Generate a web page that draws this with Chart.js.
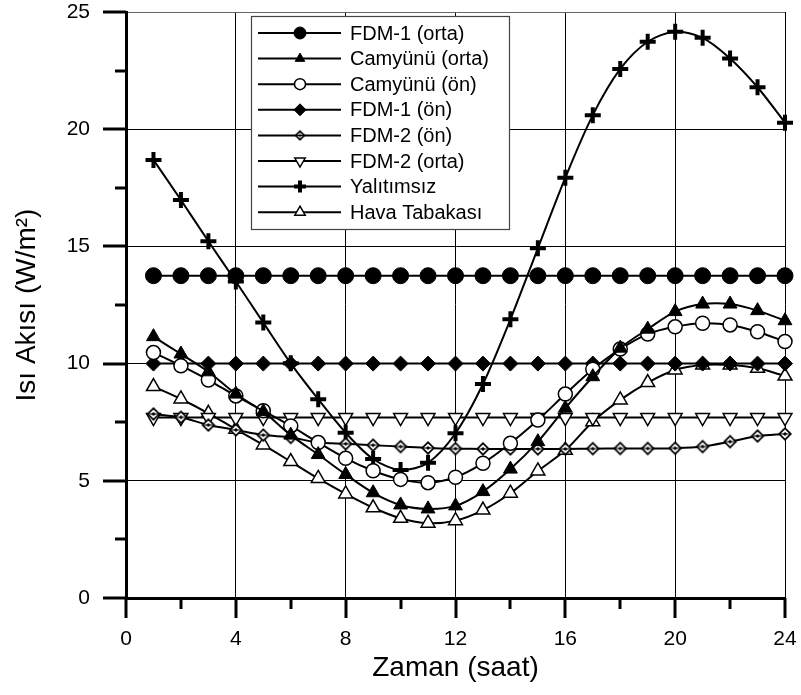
<!DOCTYPE html>
<html>
<head>
<meta charset="utf-8">
<script src="https://cdn.jsdelivr.net/npm/chart.js@4/dist/chart.umd.min.js"></script>
<style>
  html, body { margin : 0; padding : 0; background : #fff; }
  #wrap { width : 801px; height : 695px; }
</style>
</head>
<body>
<div id="wrap"><canvas id="fluxChart" width="801" height="695"></canvas></div>
<script>
// hours of the day
var hours = [1, 2, 3, 4, 5, 6, 7, 8, 9, 10, 11, 12, 13, 14, 15, 16, 17, 18, 19, 20, 21, 22, 23, 24];

// heat flux series (W/m2)
var fdm1Orta = [13.75, 13.75, 13.75, 13.75, 13.75, 13.75, 13.75, 13.75, 13.75, 13.75, 13.75, 13.75,
  13.75, 13.75, 13.75, 13.75, 13.75, 13.75, 13.75, 13.75, 13.75, 13.75, 13.75, 13.75];
var camyunuOrta = [11.15, 10.41, 9.65, 8.7, 7.95, 6.95, 6.12, 5.27, 4.49, 3.97, 3.8, 3.93,
  4.54, 5.5, 6.67, 8.1, 9.44, 10.66, 11.47, 12.22, 12.54, 12.54, 12.26, 11.83];
var camyunuOn = [10.47, 9.91, 9.3, 8.62, 7.99, 7.34, 6.63, 5.96, 5.43, 5.06, 4.92, 5.15,
  5.75, 6.6, 7.59, 8.7, 9.76, 10.62, 11.26, 11.57, 11.72, 11.65, 11.36, 10.94];
var fdm1On = [10, 10, 10, 10, 10, 10, 10, 10, 10, 10, 10, 10,
  10, 10, 10, 10, 10, 10, 10, 10, 10, 10, 10, 10];
var fdm2On = [7.85, 7.71, 7.38, 7.17, 6.95, 6.85, 6.63, 6.58, 6.52, 6.46, 6.4, 6.37,
  6.36, 6.36, 6.36, 6.36, 6.37, 6.38, 6.38, 6.39, 6.46, 6.67, 6.91, 7.0];
var fdm2Orta = [7.7, 7.7, 7.7, 7.7, 7.7, 7.7, 7.7, 7.7, 7.7, 7.7, 7.7, 7.7,
  7.7, 7.7, 7.7, 7.7, 7.7, 7.7, 7.7, 7.7, 7.7, 7.7, 7.7, 7.7];
var yalitimsiz = [18.69, 16.98, 15.22, 13.5, 11.75, 10.01, 8.48, 7.05, 5.93, 5.46, 5.77, 7.03,
  9.13, 11.89, 14.92, 17.93, 20.6, 22.57, 23.73, 24.16, 23.9, 23.02, 21.79, 20.28];
var havaTabakasi = [9.02, 8.49, 7.88, 7.2, 6.53, 5.82, 5.1, 4.44, 3.85, 3.4, 3.19, 3.3,
  3.75, 4.47, 5.42, 6.3, 7.52, 8.45, 9.19, 9.73, 9.94, 9.94, 9.8, 9.47];

var seriesLabels = ['FDM-1 (orta)', 'Camyünü (orta)', 'Camyünü (ön)', 'FDM-1 (ön)',
  'FDM-2 (ön)', 'FDM-2 (orta)', 'Yalıtımsız', 'Hava Tabakası'];

// axis ticks
var xTicks = [0, 4, 8, 12, 16, 20, 24];
var yTicks = [0, 5, 10, 15, 20, 25];

var FONT = '"Liberation Sans", Arial, sans-serif';

/**
 * diamond with a small dot inside, used for FDM-2 (ön)
 */
function makeDotDiamond(r) {
  var c = document.createElement('canvas');
  var s = Math.ceil(r * 2 + 2);
  c.width = s;
  c.height = s;
  var g = c.getContext('2d');
  var m = s / 2;
  function diamond(rr) {
    g.beginPath();
    g.moveTo(m, m - rr);
    g.lineTo(m + rr, m);
    g.lineTo(m, m + rr);
    g.lineTo(m - rr, m);
    g.closePath();
  }
  diamond(r);
  g.fillStyle = '#000';
  g.fill();
  diamond(r - 2.4);
  g.fillStyle = '#fff';
  g.fill();
  diamond(Math.max(1.2, r * 0.3));
  g.fillStyle = '#000';
  g.fill();
  g.fillRect(m - r + 2, m - 0.5, 2 * r - 4, 1);
  return c;
}

var dotDiamond = makeDotDiamond(7);
var dotDiamondSmall = makeDotDiamond(5.5);

function series(values) {
  return hours.map(function (h, i) { return { x : h, y : values[i] }; });
}

function makeDataset(label, values, style) {
  return {
    label : label,
    data : series(values),
    borderColor : '#000',
    borderWidth : 2,
    tension : 0.3,
    clip : false,
    pointStyle : style.pointStyle,
    pointRotation : style.rotation || 0,
    pointRadius : style.radius,
    pointBorderWidth : style.borderWidth,
    pointBackgroundColor : style.fill,
    pointBorderColor : '#000',
    legendRadius : style.legendRadius,
    legendStyle : style.legendStyle || style.pointStyle,
  };
}

var datasets = [
  makeDataset(seriesLabels[0], fdm1Orta, { pointStyle : 'circle', radius : 8, borderWidth : 1, fill : '#000', legendRadius : 6 }),
  makeDataset(seriesLabels[1], camyunuOrta, { pointStyle : 'triangle', radius : 8, borderWidth : 1, fill : '#000', legendRadius : 5.5 }),
  makeDataset(seriesLabels[2], camyunuOn, { pointStyle : 'circle', radius : 7, borderWidth : 1.5, fill : '#fff', legendRadius : 5.5 }),
  makeDataset(seriesLabels[3], fdm1On, { pointStyle : 'rectRot', radius : 7.5, borderWidth : 1, fill : '#000', legendRadius : 6 }),
  makeDataset(seriesLabels[4], fdm2On, { pointStyle : dotDiamond, radius : 7, borderWidth : 1, fill : '#fff', legendRadius : 5.5, legendStyle : dotDiamondSmall }),
  makeDataset(seriesLabels[5], fdm2Orta, { pointStyle : 'triangle', rotation : 180, radius : 8, borderWidth : 1.5, fill : '#fff', legendRadius : 6 }),
  makeDataset(seriesLabels[6], yalitimsiz, { pointStyle : 'cross', radius : 8, borderWidth : 4, fill : '#000', legendRadius : 6 }),
  makeDataset(seriesLabels[7], havaTabakasi, { pointStyle : 'triangle', radius : 8, borderWidth : 1.5, fill : '#fff', legendRadius : 6 }),
];

// legend box drawn inside the plot area
var insideLegend = {
  id : 'insideLegend',
  afterDraw : function (chart) {
    var ctx = chart.ctx;
    var box = { left : 251, top : 16, width : 258, height : 213 };
    var rowH = 25.6;
    ctx.save();
    ctx.fillStyle = '#fff';
    ctx.fillRect(box.left, box.top, box.width, box.height);
    ctx.strokeStyle = '#444';
    ctx.lineWidth = 1.2;
    ctx.strokeRect(box.left + 0.5, box.top + 0.5, box.width, box.height);

    chart.data.datasets.forEach(function (ds, i) {
      var y = box.top + 17 + i * rowH;
      ctx.strokeStyle = '#000';
      ctx.lineWidth = 2;
      ctx.beginPath();
      ctx.moveTo(box.left + 7, y);
      ctx.lineTo(box.left + 90, y);
      ctx.stroke();

      ctx.fillStyle = ds.pointBackgroundColor;
      ctx.strokeStyle = '#000';
      ctx.lineWidth = ds.pointBorderWidth;
      Chart.helpers.drawPoint(ctx, {
        pointStyle : ds.legendStyle,
        rotation : ds.pointRotation,
        radius : ds.legendRadius,
        borderWidth : ds.pointStyle === 'cross' ? 3.5 : ds.pointBorderWidth,
      }, box.left + 49, y);

      ctx.fillStyle = '#000';
      ctx.font = '20px ' + FONT;
      ctx.textAlign = 'left';
      ctx.textBaseline = 'middle';
      ctx.fillText(ds.label, box.left + 99, y + 1);
    });
    ctx.restore();
  },
};

// outward major/minor tick marks
var tickMarks = {
  id : 'tickMarks',
  afterDraw : function (chart) {
    var ctx = chart.ctx;
    var xs = chart.scales.x;
    var ys = chart.scales.y;
    var area = chart.chartArea;
    ctx.save();
    ctx.strokeStyle = '#000';
    ctx.lineWidth = 3;
    ctx.lineCap = 'butt';
    for (var v = 0; v <= 24; v += 2) {
      var px = Math.round(xs.getPixelForValue(v));
      var len = (v % 4 === 0) ? 20 : 11;
      ctx.beginPath();
      ctx.moveTo(px, area.bottom);
      ctx.lineTo(px, area.bottom + len);
      ctx.stroke();
    }
    for (var w = 0; w <= 25; w += 2.5) {
      var py = Math.round(ys.getPixelForValue(w));
      var l = (w % 5 === 0) ? 23 : 11;
      ctx.beginPath();
      ctx.moveTo(area.left, py);
      ctx.lineTo(area.left - l, py);
      ctx.stroke();
    }
    ctx.restore();
  },
};

// drop the label padding chart.js reserves at the axis ends
function fixedBox(size, key) {
  return function (scale) {
    scale[key] = size;
    scale.paddingTop = 0;
    scale.paddingBottom = 0;
    scale.paddingLeft = 0;
    scale.paddingRight = 0;
  };
}

var ctx = document.getElementById('fluxChart').getContext('2d');

var fluxChart = new Chart(ctx, {
  type : 'line',
  data : { datasets : datasets },
  plugins : [insideLegend, tickMarks],
  options : {
    responsive : false,
    animation : false,
    events : [],
    layout : { padding : { left : 0, right : 16, top : 12, bottom : 0 } },
    plugins : {
      legend : { display : false },
      tooltip : { enabled : false },
    },
    scales : {
      x : {
        type : 'linear',
        min : 0,
        max : 24,
        afterFit : fixedBox(97, 'height'),
        afterBuildTicks : function (scale) {
          scale.ticks = xTicks.map(function (v) { return { value : v }; });
        },
        ticks : {
          padding : 29,
          color : '#000',
          font : { family : FONT, size : 21 },
          maxRotation : 0,
        },
        grid : {
          drawTicks : false,
          lineWidth : 1,
          color : function (c) { return c.tick && c.tick.value === 0 ? 'rgba(0,0,0,0)' : '#000'; },
        },
        border : { display : true, color : '#000', width : 3 },
        title : {
          display : true,
          text : 'Zaman (saat)',
          color : '#000',
          font : { family : FONT, size : 28 },
          padding : { top : 0, bottom : 10 },
        },
      },
      y : {
        type : 'linear',
        min : 0,
        max : 25,
        afterFit : fixedBox(126, 'width'),
        afterBuildTicks : function (scale) {
          scale.ticks = yTicks.map(function (v) { return { value : v }; });
        },
        ticks : {
          padding : 36,
          color : '#000',
          font : { family : FONT, size : 21 },
        },
        grid : {
          drawTicks : false,
          lineWidth : 1,
          color : function (c) {
            if (!c.tick || c.tick.value === 0) { return 'rgba(0,0,0,0)'; }
            return c.tick.value === 25 ? '#666' : '#000';
          },
        },
        border : { display : true, color : '#000', width : 3 },
        title : {
          display : true,
          text : 'Isı Akısı (W/m²)',
          color : '#000',
          font : { family : FONT, size : 28 },
          padding : { top : 10, bottom : 0 },
        },
      },
    },
  },
});
</script>
</body>
</html>
